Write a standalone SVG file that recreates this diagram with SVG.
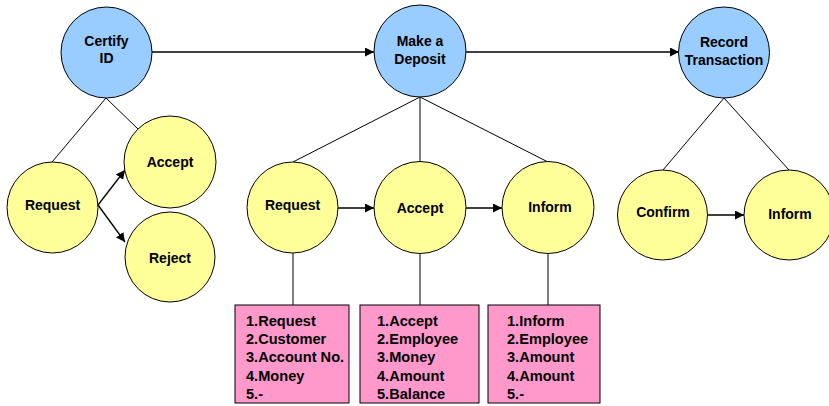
<svg xmlns="http://www.w3.org/2000/svg" width="829" height="406" viewBox="0 0 829 406">
<style>
.blue{fill:#99CCFF;stroke:#000;stroke-width:1}
.yel{fill:#FFFF99;stroke:#000;stroke-width:1}
.pink{fill:#FF99CC;stroke:#000;stroke-width:1}
.lbl{font-family:"Liberation Sans",Arial,sans-serif;font-weight:bold;font-size:14px;text-anchor:middle;fill:#000}
.lst{font-family:"Liberation Sans",Arial,sans-serif;font-weight:bold;font-size:14.6px;fill:#000}
.ln{stroke:#000;stroke-width:1;fill:none}
.ar{stroke:#000;stroke-width:1.3;fill:none;marker-end:url(#ah)}
</style>
<defs>
<marker id="ah" viewBox="0 0 10 10" refX="10" refY="5" markerWidth="9" markerHeight="9" markerUnits="userSpaceOnUse" orient="auto">
<path d="M0,0 L10,5 L0,10 z" fill="#000"/>
</marker>
</defs>
<rect width="829" height="406" fill="#fff"/>
<g id="connectors">
<line class="ar" x1="152" y1="52" x2="374" y2="52"/>
<line class="ar" x1="466" y1="52" x2="679" y2="52"/>
<line class="ln" x1="106" y1="98" x2="52" y2="162"/>
<line class="ln" x1="106" y1="98" x2="138" y2="129"/>
<line class="ar" x1="98" y1="205" x2="125" y2="170"/>
<line class="ar" x1="98" y1="205" x2="125" y2="242"/>
<line class="ln" x1="420" y1="97" x2="293" y2="162"/>
<line class="ln" x1="420" y1="97" x2="420" y2="162"/>
<line class="ln" x1="420" y1="97" x2="548" y2="162"/>
<line class="ar" x1="338" y1="208" x2="374" y2="208"/>
<line class="ar" x1="466" y1="208" x2="502" y2="208"/>
<line class="ln" x1="293" y1="253" x2="293" y2="305"/>
<line class="ln" x1="420" y1="253" x2="420" y2="305"/>
<line class="ln" x1="548" y1="253" x2="548" y2="305"/>
<line class="ln" x1="724" y1="98" x2="663" y2="170"/>
<line class="ln" x1="724" y1="98" x2="789" y2="170"/>
<line class="ar" x1="708" y1="215" x2="744" y2="215"/>
</g>
<g id="certify-id"><circle class="blue" cx="106.5" cy="52.5" r="45.5"/><text class="lbl" x="106.5" y="46">Certify</text><text class="lbl" x="106.5" y="63">ID</text></g>
<g id="make-deposit"><circle class="blue" cx="420" cy="51" r="46"/><text class="lbl" x="420" y="46">Make a</text><text class="lbl" x="420" y="64">Deposit</text></g>
<g id="record-transaction"><circle class="blue" cx="724" cy="52.5" r="45.5"/><text class="lbl" x="724" y="47">Record</text><text class="lbl" x="724" y="65">Transaction</text></g>
<g id="cid-request"><circle class="yel" cx="52.5" cy="207.5" r="45.5"/><text class="lbl" x="52.5" y="210">Request</text></g>
<g id="cid-accept"><circle class="yel" cx="170" cy="162" r="46"/><text class="lbl" x="170" y="167">Accept</text></g>
<g id="cid-reject"><circle class="yel" cx="170" cy="257" r="45"/><text class="lbl" x="170" y="263">Reject</text></g>
<g id="dep-request"><circle class="yel" cx="292.5" cy="207.5" r="45.5"/><text class="lbl" x="292.5" y="210">Request</text></g>
<g id="dep-accept"><circle class="yel" cx="420" cy="207.5" r="46"/><text class="lbl" x="420" y="213">Accept</text></g>
<g id="dep-inform"><circle class="yel" cx="548" cy="207.5" r="46"/><text class="lbl" x="550" y="212">Inform</text></g>
<g id="rec-confirm"><circle class="yel" cx="662.5" cy="215" r="45"/><text class="lbl" x="663" y="217">Confirm</text></g>
<g id="rec-inform"><circle class="yel" cx="789" cy="215" r="45"/><text class="lbl" x="790" y="219">Inform</text></g>
<g id="box-request"><rect class="pink" x="235" y="305" width="114" height="98"/>
<text class="lst" x="246"><tspan x="246" y="326">1.Request</tspan><tspan x="246" y="344">2.Customer</tspan><tspan x="246" y="362">3.Account No.</tspan><tspan x="246" y="381">4.Money</tspan><tspan x="246" y="399">5.-</tspan></text></g>
<g id="box-accept"><rect class="pink" x="360" y="305" width="119" height="98"/>
<text class="lst" x="377"><tspan x="377" y="326">1.Accept</tspan><tspan x="377" y="344">2.Employee</tspan><tspan x="377" y="362">3.Money</tspan><tspan x="377" y="381">4.Amount</tspan><tspan x="377" y="399">5.Balance</tspan></text></g>
<g id="box-inform"><rect class="pink" x="488" y="305" width="112" height="98"/>
<text class="lst" x="507"><tspan x="507" y="326">1.Inform</tspan><tspan x="507" y="344">2.Employee</tspan><tspan x="507" y="362">3.Amount</tspan><tspan x="507" y="381">4.Amount</tspan><tspan x="507" y="399">5.-</tspan></text></g>
</svg>
